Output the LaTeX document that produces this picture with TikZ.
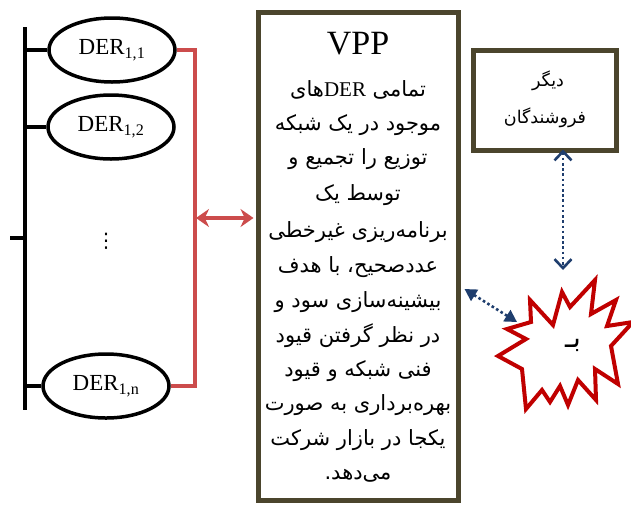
\documentclass[tikz,border=0pt]{standalone}
\usepackage{fontspec}
\setmainfont{Liberation Serif}
\newfontfamily\arabicfont[Script=Arabic]{DejaVu Sans}
\newfontfamily\symfont{DejaVu Sans}
\TeXXeTstate=1
\usetikzlibrary{arrows.meta,shapes.geometric}
\definecolor{olivebox}{RGB}{75,69,45}
\definecolor{redline}{RGB}{204,76,76}
\definecolor{navyarrow}{RGB}{31,62,110}
\definecolor{starred}{RGB}{192,0,0}
\newcommand\pers[1]{{\arabicfont\beginR #1\endR}}
\tikzset{
  der/.style={ellipse, draw, line width=3.5pt, minimum width=126pt, minimum height=64pt, inner sep=0pt, font=\fontsize{23}{27}\selectfont},
  busline/.style={line width=3.5pt, black},
  bracketline/.style={line width=3.5pt, redline},
  redarrow/.style={line width=4pt, redline, {Stealth[length=13pt,width=18pt]}-{Stealth[length=13pt,width=18pt]}},
  frame/.style={draw=olivebox, line width=5pt, rectangle, inner sep=0pt},
  pline/.style={font=\arabicfont\fontsize{21}{25}\selectfont, inner sep=0pt},
  bline/.style={font=\arabicfont\fontsize{17.5}{21}\selectfont, inner sep=0pt},
  bluedot/.style={navyarrow, line width=2.6pt, dash pattern=on 2.6pt off 2.6pt},
}
\begin{document}
\begin{tikzpicture}[x=1pt,y=-1pt]
\useasboundingbox[fill=white] (0,0) rectangle (631,504);
% bus
\coordinate (bt) at (25,27);
\coordinate (bb) at (25,410);
\coordinate (bs) at (10,238);
\draw[busline] (bt) -- (bb);
\draw[busline] (bs) -- (bs -| bt);
% DERs
\node[der] (d1) at (112,50) {DER\textsubscript{1,1}};
\node[der] (d2) at (111,127) {DER\textsubscript{1,2}};
\node[der] (dn) at (106,386) {DER\textsubscript{1,n}};
\node[font=\symfont\fontsize{20}{24}\selectfont, inner sep=0pt] (dots) at (106,241) {⋮};
\draw[busline] (d1.west) -- (d1.west -| bt);
\draw[busline] (d2.west) -- (d2.west -| bt);
\draw[busline] (dn.west) -- (dn.west -| bt);
% red bracket
\coordinate (rt) at (195,50);
\coordinate (rb) at (195,386);
\coordinate (ra) at (196,218);
\draw[bracketline] (d1.east) -- (rt) -- (rb) -- (dn.east);
% VPP box
\node[frame, minimum width=200pt, minimum height=488pt] (vpp) at (358,256) {};
\draw[redarrow] (ra) -- ([xshift=-2pt]ra -| vpp.west);
\node[font=\fontsize{34}{40}\selectfont, inner sep=0pt] (vt) at (358,44) {VPP};
\node[pline] (l1) at (358,90) {\pers{تمامی \beginL{\rmfamily DER}\endL{}های}};
\node[pline] (l2) at (358,125) {\pers{موجود در یک شبکه}};
\node[pline] (l3) at (358,159) {\pers{توزیع را تجمیع و}};
\node[pline] (l4) at (358,195) {\pers{توسط یک}};
\node[pline] (l5) at (358,232) {\pers{برنامه‌ریزی غیرخطی}};
\node[pline] (l6) at (358,267) {\pers{عددصحیح، با هدف}};
\node[pline] (l7) at (358,302) {\pers{بیشینه‌سازی سود و}};
\node[pline] (l8) at (358,336) {\pers{در نظر گرفتن قیود}};
\node[pline] (l9) at (358,371) {\pers{فنی شبکه و قیود}};
\node[pline] (l10) at (358,405) {\pers{بهره‌برداری به صورت}};
\node[pline] (l11) at (358,440) {\pers{یکجا در بازار شرکت}};
\node[pline] (l12) at (358,476) {\pers{می‌دهد.}};
% other sellers box
\node[frame, minimum width=143pt, minimum height=100pt] (fo) at (545,100) {};
\node[bline] (fo1) at (548,81) {\pers{دیگر}};
\node[bline] (fo2) at (545,118) {\pers{فروشندگان}};
% star
\draw[starred, line width=4pt, fill=white, line join=miter, miter limit=4]
  (595,280) -- (591,314) -- (616,300) -- (607,326) -- (633,322) -- (611,346)
  -- (618,384) -- (595,369) -- (596,400) -- (578,380) -- (568,405) -- (560,386)
  -- (550,402) -- (542,390) -- (526,409) -- (522,369) -- (498,356) -- (526,339)
  -- (507,329) -- (531,322) -- (530,300) -- (553,325) -- (562,292) -- (570,307) -- cycle;
\node[font=\arabicfont\fontsize{28}{32}\selectfont, inner sep=0pt] (st) at (573,345) {\pers{بـ}};
% blue arrows
\coordinate (vb) at (563,270);
\coordinate (dp) at (462,289);
\coordinate (de) at (517,322);
\draw[bluedot, {Straight Barb[length=9pt,width=17pt]}-{Straight Barb[length=9pt,width=17pt]}] ([yshift=3pt]fo.south -| vb) -- (vb);
\draw[bluedot, {Triangle[length=12pt,width=13pt]}-{Triangle[length=12pt,width=13pt]}] ([xshift=4pt]vpp.east |- dp) -- (de);
\end{tikzpicture}
\end{document}
